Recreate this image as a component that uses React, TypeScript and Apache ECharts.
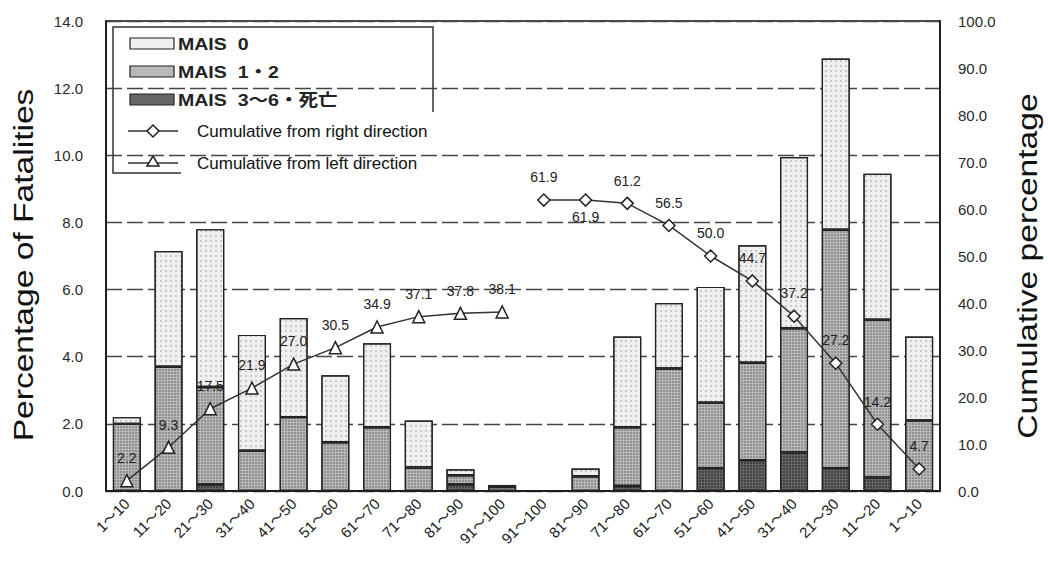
import React, { useEffect, useRef } from 'react';
import * as echarts from 'echarts';

const categories = [
  '1～10', '11～20', '21～30', '31～40', '41～50', '51～60', '61～70', '71～80', '81～90', '91～100',
  '91～100', '81～90', '71～80', '61～70', '51～60', '41～50', '31～40', '21～30', '11～20', '1～10',
];
const mais36 = [null, null, 0.2, null, null, null, null, null, 0.2, null, null, null, 0.15, null, 0.68, 0.92, 1.15, 0.68, 0.4, null];
const mais12 = [2.0, 3.7, 2.9, 1.2, 2.2, 1.45, 1.9, 0.7, 0.27, 0.12, null, 0.44, 1.75, 3.65, 1.95, 2.9, 3.7, 7.1, 4.7, 2.1];
const mais0 = [0.2, 3.45, 4.7, 3.45, 2.95, 2.0, 2.5, 1.4, 0.18, 0.06, null, 0.23, 2.7, 1.95, 3.45, 3.5, 5.1, 5.1, 4.35, 2.5];
const cumLeft = [2.2, 9.3, 17.5, 21.9, 27.0, 30.5, 34.9, 37.1, 37.8, 38.1, null, null, null, null, null, null, null, null, null, null];
const cumRight = [null, null, null, null, null, null, null, null, null, null, 61.9, 61.9, 61.2, 56.5, 50.0, 44.7, 37.2, 27.2, 14.2, 4.7];
const legendBars = ['MAIS  0', 'MAIS  1・2', 'MAIS  3～6・死亡'];
const legendLines = ['Cumulative from right direction', 'Cumulative from left direction'];

const FONT = '"Liberation Sans", Arial, "Noto Sans CJK JP", sans-serif';
const C0 = '#efefef';
const C12 = '#b9b9b9';
const C36 = '#666666';

export default function App() {
  const ref = useRef<HTMLDivElement>(null);
  useEffect(() => {
    document.body.style.margin = '0';
    const chart = echarts.init(ref.current!, null, { renderer: 'svg' });
    const barStyle = (color: string, dot: string, gap: number) => ({
      color,
      borderColor: '#222',
      borderWidth: 1.2,
      decal: {
        symbol: 'circle',
        symbolSize: 0.8,
        color: dot,
        dashArrayX: [2, gap],
        dashArrayY: [2, gap],
      },
    });
    const labelFmt = (p: any) => (p.value == null ? '' : Number(p.value).toFixed(1));
    const lineLabel = {
      show: true,
      position: 'top',
      distance: 9,
      fontSize: 14,
      color: '#222',
      fontFamily: FONT,
      formatter: labelFmt,
    };
    const legendSwatch = [C0, C12, C36];
    const graphic: any[] = [
      {
        type: 'text', x: 23, y: 265, rotation: Math.PI / 2, scaleX: 1.2,
        style: { text: 'Percentage of Fatalities', fontSize: 28, fontFamily: FONT, fill: '#111', align: 'center', verticalAlign: 'middle' },
      },
      {
        type: 'text', x: 1027, y: 266, rotation: Math.PI / 2, scaleX: 1.2,
        style: { text: 'Cumulative percentage', fontSize: 28, fontFamily: FONT, fill: '#111', align: 'center', verticalAlign: 'middle' },
      },
      {
        type: 'group', z: 100,
        children: [
          { type: 'rect', shape: { x: 113, y: 27, width: 320, height: 146 }, style: { fill: '#fff', stroke: '#333', lineWidth: 1.5 } },
          ...legendBars.flatMap((t, i) => [
            { type: 'rect', shape: { x: 130, y: 38 + i * 28, width: 44, height: 11 }, style: { fill: legendSwatch[i], stroke: '#222', lineWidth: 1.2 } },
            {
              type: 'text', x: 178, y: 44 + i * 28, scaleX: 1.15,
              style: { text: t, fontSize: 17, fontWeight: 'bold', fontFamily: FONT, fill: '#222', verticalAlign: 'middle' },
            },
          ]),
          { type: 'line', shape: { x1: 128, y1: 131, x2: 178, y2: 131 }, style: { stroke: '#333', lineWidth: 1.5 } },
          { type: 'polygon', shape: { points: [[153, 125], [159, 131], [153, 137], [147, 131]] }, style: { fill: '#fff', stroke: '#222', lineWidth: 1.5 } },
          { type: 'line', shape: { x1: 128, y1: 163, x2: 178, y2: 163 }, style: { stroke: '#333', lineWidth: 1.5 } },
          { type: 'polygon', shape: { points: [[153, 156], [159, 166], [147, 166]] }, style: { fill: '#fff', stroke: '#222', lineWidth: 1.5 } },
          { type: 'rect', shape: { x: 181, y: 112, width: 281, height: 68 }, style: { fill: '#fff' } },
          ...legendLines.map((t, i) => ({
            type: 'text', x: 197, y: 131 + i * 32,
            style: { text: t, fontSize: 17, fontFamily: FONT, fill: '#111', verticalAlign: 'middle' },
          })),
        ],
      },
    ];
    const option: any = {
      animation: false,
      backgroundColor: '#fff',
      grid: { left: 106, right: 108, top: 21, bottom: 90, show: true, borderColor: '#111', borderWidth: 1.5, containLabel: false },
      xAxis: {
        type: 'category',
        data: categories,
        axisLine: { lineStyle: { color: '#111', width: 1.5 } },
        axisTick: { show: false },
        axisLabel: { rotate: 45, interval: 0, fontSize: 15, color: '#222', margin: 10, fontFamily: FONT },
      },
      yAxis: [
        {
          type: 'value', min: 0, max: 14, interval: 2, position: 'left',
          axisLine: { show: true, lineStyle: { color: '#111', width: 1.5 } },
          axisTick: { show: false },
          axisLabel: { formatter: (v: number) => v.toFixed(1), fontSize: 15, color: '#2a2a2a', margin: 23, fontFamily: FONT },
          splitLine: { show: true, lineStyle: { color: '#444', width: 1.3, type: [16, 5] } },
        },
        {
          type: 'value', min: 0, max: 100, interval: 10, position: 'right',
          axisLine: { show: true, lineStyle: { color: '#111', width: 1.5 } },
          axisTick: { show: false },
          axisLabel: { formatter: (v: number) => v.toFixed(1), fontSize: 15, color: '#2a2a2a', margin: 18, fontFamily: FONT },
          splitLine: { show: false },
        },
      ],
      series: [
        { name: legendBars[2], type: 'bar', stack: 'a', barWidth: 28, data: mais36, itemStyle: barStyle(C36, 'rgba(0,0,0,0.55)', 1) },
        { name: legendBars[1], type: 'bar', stack: 'a', barWidth: 28, data: mais12, itemStyle: barStyle(C12, 'rgba(0,0,0,0.35)', 1) },
        { name: legendBars[0], type: 'bar', stack: 'a', barWidth: 28, data: mais0, itemStyle: barStyle(C0, 'rgba(0,0,0,0.25)', 3) },
        {
          name: legendLines[1], type: 'line', yAxisIndex: 1, data: cumLeft, symbol: 'triangle', symbolSize: 12,
          lineStyle: { color: '#333', width: 1.5 }, itemStyle: { color: '#fff', borderColor: '#222', borderWidth: 1.5 },
          label: lineLabel, z: 5,
        },
        {
          name: legendLines[0], type: 'line', yAxisIndex: 1, symbol: 'diamond', symbolSize: 12,
          data: cumRight.map((v, i) => (i === 11 ? { value: v, label: { position: 'bottom', distance: 3 } } : v)),
          lineStyle: { color: '#333', width: 1.5 }, itemStyle: { color: '#fff', borderColor: '#222', borderWidth: 1.5 },
          label: lineLabel, z: 5,
        },
      ],
      graphic,
    };
    chart.setOption(option);
    return () => chart.dispose();
  }, []);
  return <div ref={ref} style={{ width: 1048, height: 581 }} />;
}
